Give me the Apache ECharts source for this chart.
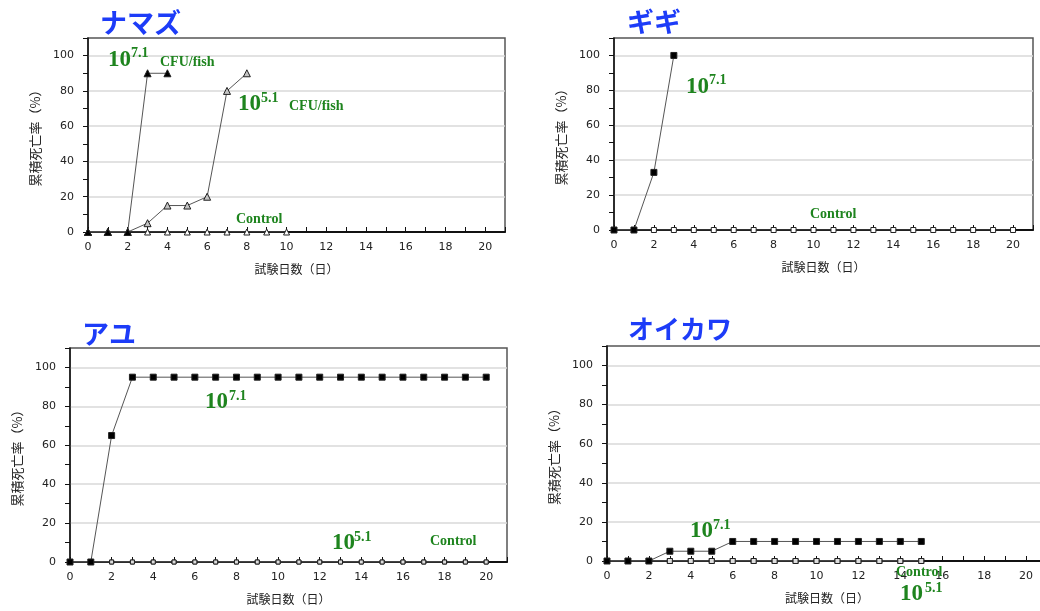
<!DOCTYPE html>
<html>
<head>
<meta charset="utf-8">
<script src="https://cdn.jsdelivr.net/npm/echarts@6/dist/echarts.min.js"></script>
<style>
  html, body { margin: 0; padding: 0; background: #fff; }
  #chart { width: 1040px; height: 611px; }
</style>
</head>
<body>
<div id="chart"></div>
<script>
// 試験日数
const days = [0, 1, 2, 3, 4, 5, 6, 7, 8, 9, 10, 11, 12, 13, 14, 15, 16, 17, 18, 19, 20]
const xTicks = [0, 2, 4, 6, 8, 10, 12, 14, 16, 18, 20]
const yTicks = [0, 20, 40, 60, 80, 100]

// ナマズ
const namazuHigh = [0, 0, 0, 90, 90]
const namazuLow = [0, 0, 0, 5, 15, 15, 20, 80, 90]
const namazuControl = [0, 0, 0, 0, 0, 0, 0, 0, 0, 0, 0]

// ギギ
const gigiHigh = [0, 0, 33, 100]
const gigiControl = [0, 0, 0, 0, 0, 0, 0, 0, 0, 0, 0, 0, 0, 0, 0, 0, 0, 0, 0, 0, 0]

// アユ
const ayuHigh = [0, 0, 65, 95, 95, 95, 95, 95, 95, 95, 95, 95, 95, 95, 95, 95, 95, 95, 95, 95, 95]
const ayuLow = [0, 0, 0, 0, 0, 0, 0, 0, 0, 0, 0, 0, 0, 0, 0, 0, 0, 0, 0, 0, 0]
const ayuControl = [0, 0, 0, 0, 0, 0, 0, 0, 0, 0, 0, 0, 0, 0, 0, 0, 0, 0, 0, 0, 0]

// オイカワ
const oikawaHigh = [0, 0, 0, 5, 5, 5, 10, 10, 10, 10, 10, 10, 10, 10, 10, 10]
const oikawaLow = [0, 0, 0, 0, 0, 0, 0, 0, 0, 0, 0, 0, 0, 0, 0, 0]
const oikawaControl = [0, 0, 0, 0, 0, 0, 0, 0, 0, 0, 0, 0, 0, 0, 0, 0]

const GREEN = '#1e841e'
const BLUE = '#1d3cf8'

const grids = [
  { left: 88, top: 38, width: 417, height: 194 },
  { left: 614, top: 38, width: 419, height: 192 },
  { left: 70, top: 348, width: 437, height: 214 },
  { left: 607, top: 346, width: 440, height: 215 },
]

function pairs(vals) {
  return vals.map((v, i) => [days[i], v])
}

function xAxisFor(i) {
  return {
    type: 'value',
    gridIndex: i,
    min: 0,
    max: 21,
    interval: 1,
    axisLine: { lineStyle: { color: '#111', width: 2 } },
    axisTick: { inside: true, length: 5, lineStyle: { color: '#111' } },
    splitLine: { show: false },
    axisLabel: {
      margin: 10,
      color: '#222',
      fontSize: 11,
      fontFamily: 'DejaVu Sans',
      formatter: (v) => (xTicks.includes(v) ? String(v) : ''),
    },
    name: '試験日数（日）',
    nameLocation: 'middle',
    nameGap: 31,
    nameTextStyle: { fontSize: 12, color: '#222', fontFamily: 'Noto Sans CJK JP' },
  }
}

function yAxisFor(i) {
  return {
    type: 'value',
    gridIndex: i,
    min: 0,
    max: 110,
    interval: 10,
    axisLine: { show: true, lineStyle: { color: '#111', width: 1.5 } },
    axisTick: { show: true, length: 5, lineStyle: { color: '#111' } },
    splitLine: { show: true, lineStyle: { color: ['#d9d9d9', 'transparent'], width: 1.5 } },
    axisLabel: {
      margin: 14,
      color: '#222',
      fontSize: 11,
      fontFamily: 'DejaVu Sans',
      formatter: (v) => (yTicks.includes(v) ? String(v) : ''),
    },
    name: '累積死亡率（%）',
    nameLocation: 'middle',
    nameGap: 46,
    nameTextStyle: { fontSize: 13, color: '#222', fontFamily: 'Noto Sans CJK JP' },
  }
}

function line(i, vals, symbol, size, fill, z) {
  return {
    type: 'line',
    xAxisIndex: i,
    yAxisIndex: i,
    data: pairs(vals),
    symbol: symbol,
    symbolSize: size,
    showAllSymbol: true,
    itemStyle: { color: fill, borderColor: '#222', borderWidth: 1 },
    lineStyle: { color: '#555', width: 1 },
    z: z,
    animation: false,
  }
}

function text(x, y, s, size, color, family) {
  return {
    type: 'text',
    x: x,
    y: y,
    z: 100,
    style: {
      text: s,
      fill: color,
      font: 'bold ' + size + 'px ' + family,
      textAlign: 'left',
      align: 'left',
      textVerticalAlign: 'middle',
      verticalAlign: 'middle',
    },
  }
}

function serif(x, y, s, size) {
  return text(x, y, s, size, GREEN, '"Liberation Serif", "Times New Roman", serif')
}

const labels = [
  // titles
  text(100, 23, 'ナマズ', 27, BLUE, '"Noto Sans CJK JP"'),
  text(627, 22, 'ギギ', 27, BLUE, '"Noto Sans CJK JP"'),
  text(82, 334, 'アユ', 27, BLUE, '"Noto Sans CJK JP"'),
  text(628, 329, 'オイカワ', 26, BLUE, '"Noto Sans CJK JP"'),
  // ナマズ
  serif(108, 60, '10', 23), serif(131, 53, '7.1', 14), serif(160, 62, 'CFU/fish', 14),
  serif(238, 104, '10', 23), serif(261, 98, '5.1', 14), serif(289, 106, 'CFU/fish', 14),
  serif(236, 219, 'Control', 14),
  // ギギ
  serif(686, 87, '10', 23), serif(709, 80, '7.1', 14),
  serif(810, 214, 'Control', 14),
  // アユ
  serif(205, 402, '10', 23), serif(229, 396, '7.1', 14),
  serif(332, 543, '10', 23), serif(354, 537, '5.1', 14),
  serif(430, 541, 'Control', 14),
  // オイカワ
  serif(690, 531, '10', 23), serif(713, 525, '7.1', 14),
  serif(896, 572, 'Control', 14),
  serif(900, 594, '10', 23), serif(925, 588, '5.1', 14),
]

const chart = echarts.init(document.getElementById('chart'))

chart.setOption({
  animation: false,
  backgroundColor: '#fff',
  grid: grids.map((g) => ({
    ...g,
    show: true,
    borderColor: '#555',
    borderWidth: 1.5,
    containLabel: false,
    outerBoundsMode: 'none',
  })),
  xAxis: [0, 1, 2, 3].map(xAxisFor),
  yAxis: [0, 1, 2, 3].map(yAxisFor),
  series: [
    line(0, namazuControl, 'triangle', 6, '#fff', 2),
    line(0, namazuLow, 'triangle', 7, '#c4c4c4', 3),
    line(0, namazuHigh, 'triangle', 7, '#000', 4),

    line(1, gigiControl, 'rect', 5, '#fff', 2),
    line(1, gigiHigh, 'rect', 6, '#000', 3),

    line(2, ayuControl, 'rect', 4, '#ddd', 2),
    line(2, ayuLow, 'rect', 4, '#ddd', 2),
    line(2, ayuHigh, 'rect', 6, '#000', 3),

    line(3, oikawaControl, 'rect', 5, '#ddd', 2),
    line(3, oikawaLow, 'rect', 5, '#ddd', 2),
    line(3, oikawaHigh, 'rect', 6, '#000', 3),
  ],
  graphic: labels,
})

window.addEventListener('resize', () => chart.resize())
</script>
</body>
</html>
